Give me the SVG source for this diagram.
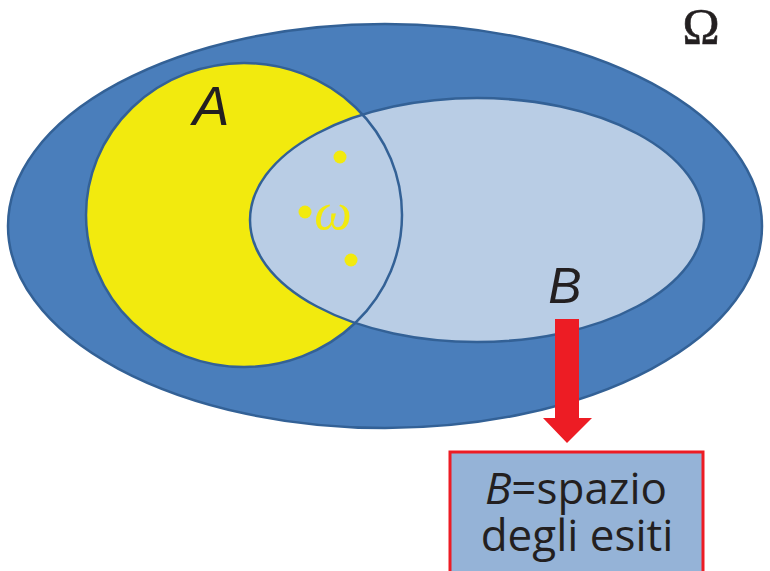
<svg xmlns="http://www.w3.org/2000/svg" width="770" height="571" viewBox="0 0 770 571">
<style>
.ol{fill:none;stroke:#336196;stroke-width:2.5}
.lbl{font-family:"Liberation Sans",Arial,sans-serif;font-style:italic;fill:#231f20}
.bx{font-family:"Open Sans","DejaVu Sans",sans-serif;font-size:44px;fill:#231f20;text-anchor:middle}
.dot{fill:#f2ea0e}
</style>
<rect width="770" height="571" fill="#ffffff"/>
<g id="omega-space">
<ellipse cx="385" cy="226" rx="377" ry="202" fill="#4a7ebb" stroke="#336196" stroke-width="2.5"/>
<text x="701" y="43" font-family="Liberation Serif,serif" font-size="50" text-anchor="middle" fill="#231f20" stroke="#231f20" stroke-width="0.6">Ω</text>
</g>
<g id="A">
<ellipse cx="244" cy="215" rx="158" ry="152" fill="#f2ea0e"/>
</g>
<g id="B">
<ellipse cx="477" cy="220" rx="227" ry="122" fill="#b9cde5"/>
</g>
<g id="outlines">
<ellipse class="ol" cx="244" cy="215" rx="158" ry="152"/>
<ellipse class="ol" cx="477" cy="220" rx="227" ry="122"/>
</g>
<g id="labels">
<text class="lbl" x="211" y="125" font-size="55" text-anchor="middle">A</text>
<text class="lbl" x="565" y="303" font-size="50" text-anchor="middle">B</text>
</g>
<g id="outcomes">
<circle class="dot" cx="340" cy="157" r="6.5"/>
<circle class="dot" cx="305" cy="212" r="6.5"/>
<circle class="dot" cx="351" cy="260" r="6.5"/>
<text x="333" y="229" font-family="Liberation Serif,serif" font-style="italic" font-size="53" text-anchor="middle" fill="#f2ea0e">ω</text>
</g>
<g id="connectors">
<polygon points="555,319 579,319 579,418 592,418 567,443 543,418 555,418" fill="#ed1c24"/>
</g>
<g id="sample-space-box">
<rect x="450" y="452" width="253" height="130" fill="#95b3d7" stroke="#ed1c24" stroke-width="3"/>
<text class="bx"><tspan x="576" y="504"><tspan font-style="italic">B</tspan>=spazio</tspan><tspan x="577" y="551">degli esiti</tspan></text>
</g>
</svg>
